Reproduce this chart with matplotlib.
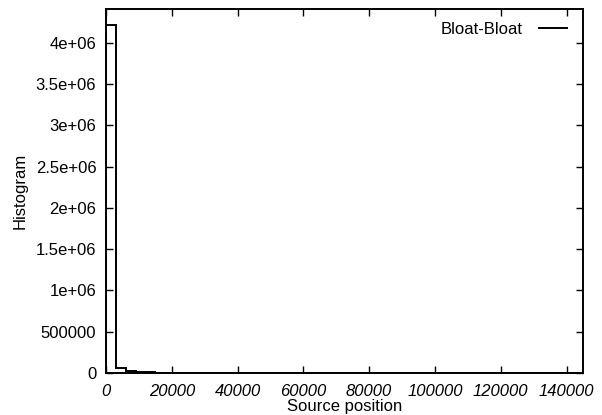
import numpy as np
import matplotlib
matplotlib.use("Agg")
import matplotlib.pyplot as plt

plt.rcParams['font.family'] = ['Liberation Sans', 'DejaVu Sans']

# histogram bins of source positions (bin width 3000)
bin_width = 3000
counts = [4220000, 57000, 28000, 9000, 7000, 6000, 5000, 5000, 4000, 5000,
          4000, 4000, 5000, 4000, 3000, 3000, 4000, 4000, 3000, 3000,
          3000, 4000, 3000, 3000, 3000, 3000, 4000, 3000, 3000, 2000,
          3000, 3000, 3000, 2000, 3000, 3000, 3000, 2000, 3000, 2000,
          3000, 3000, 3000, 2000, 3000, 3000, 3000, 2000]
edges = np.arange(len(counts) + 1) * bin_width
series_label = "Bloat-Bloat"
x_ticks = [0, 20000, 40000, 60000, 80000, 100000, 120000, 140000]
y_ticks = [0, 500000, 1000000, 1500000, 2000000, 2500000, 3000000, 3500000, 4000000]
y_tick_labels = ["0", "500000", "1e+06", "1.5e+06", "2e+06", "2.5e+06", "3e+06", "3.5e+06", "4e+06"]

fig = plt.figure(figsize=(6.02, 4.15), dpi=100)
ax = fig.add_axes([106/602, 1 - 373/415, (583-106)/602, (373-9)/415])

ax.stairs(counts, edges, color='black', linewidth=1.4, label=series_label)

ax.set_xlim(0, 145000)
ax.set_ylim(0, 4410000)
ax.set_xticks(x_ticks)
ax.set_xticklabels([str(v) for v in x_ticks], style='italic')
ax.set_yticks(y_ticks)
ax.set_yticklabels(y_tick_labels)

ax.tick_params(direction='in', length=5, width=1, top=True, right=True,
               labelsize=12, colors='black')
ax.tick_params(axis='y', pad=7)
ax.tick_params(axis='x', pad=8)
for s in ax.spines.values():
    s.set_linewidth(1.4)

ax.set_xlabel("Source position", fontsize=12, labelpad=0)
ax.set_ylabel("Histogram", fontsize=12, labelpad=6)

ax.legend(loc='upper right', frameon=False, markerfirst=False, fontsize=12,
          handlelength=1.7, handletextpad=1.0, borderaxespad=0.4,
          bbox_to_anchor=(0.995, 1.0))

fig.savefig("out.png", dpi=100)
